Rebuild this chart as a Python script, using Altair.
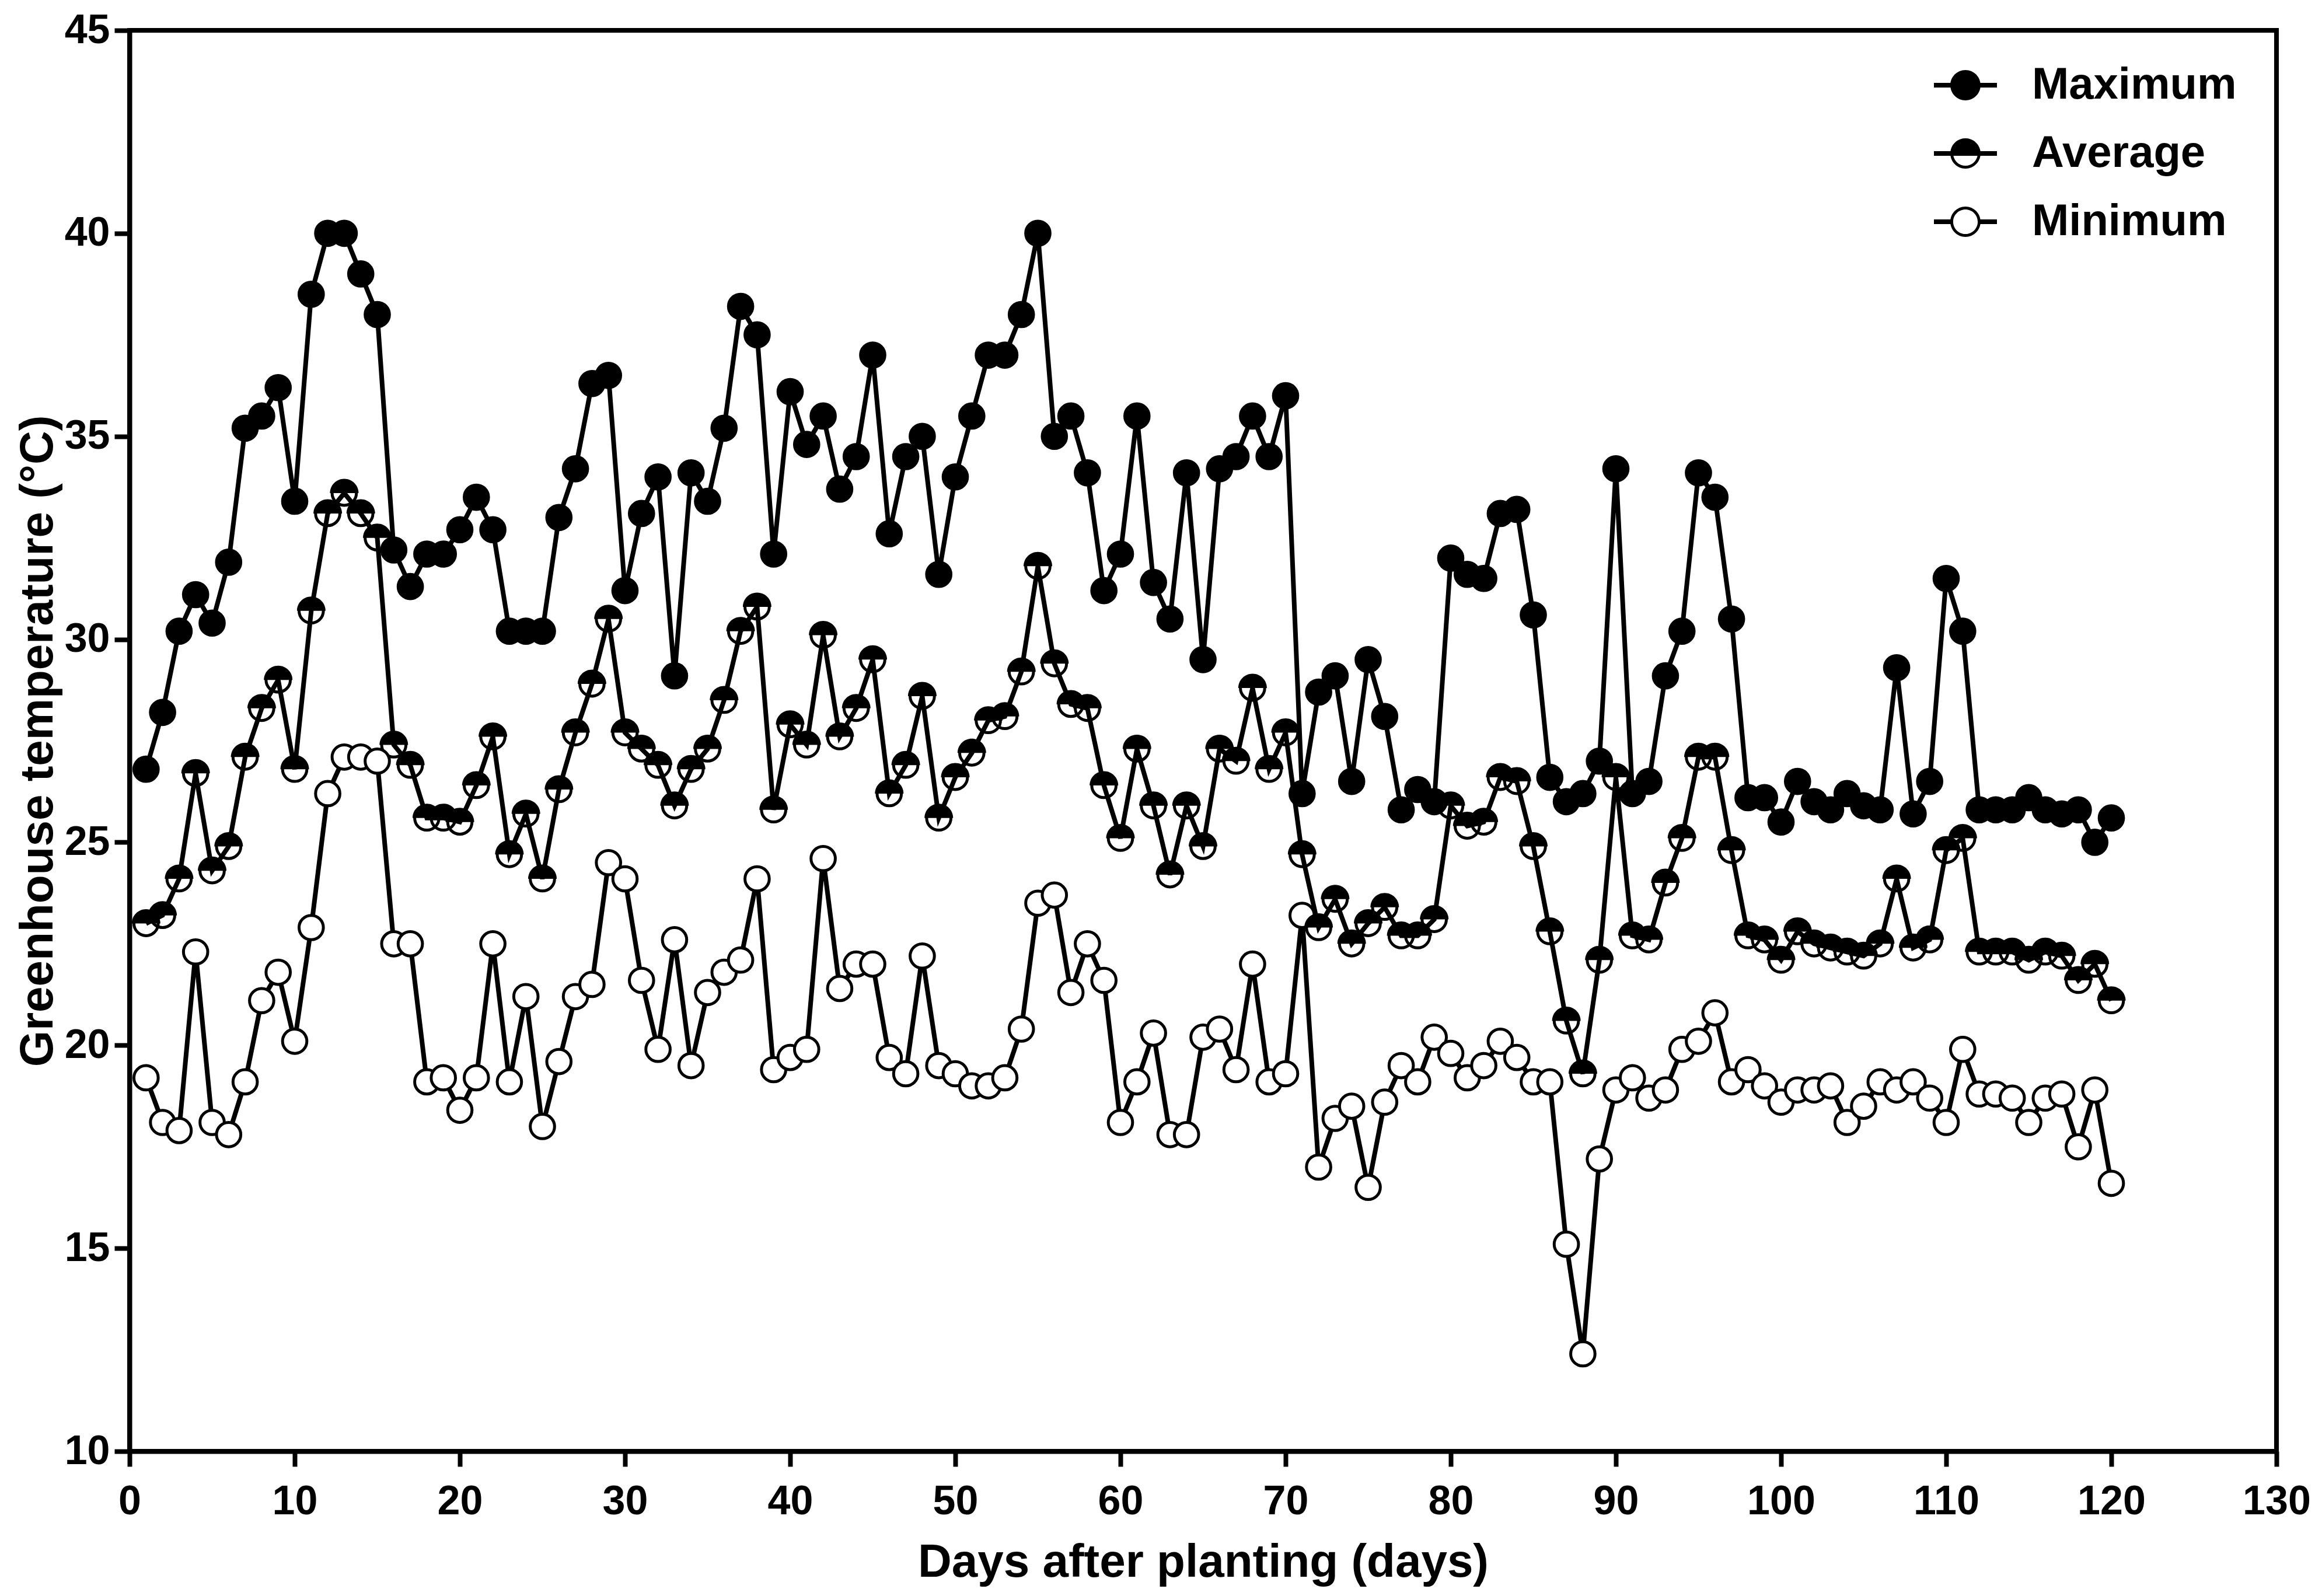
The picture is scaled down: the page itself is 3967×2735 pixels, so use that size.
import altair as alt
import pandas as pd

days = list(range(1, 121))

max_t = [26.8, 28.2, 30.2, 31.1, 30.4, 31.9, 35.2, 35.5, 36.2, 33.4,
         38.5, 40.0, 40.0, 39.0, 38.0, 32.2, 31.3, 32.1, 32.1, 32.7,
         33.5, 32.7, 30.2, 30.2, 30.2, 33.0, 34.2, 36.3, 36.5, 31.2,
         33.1, 34.0, 29.1, 34.1, 33.4, 35.2, 38.2, 37.5, 32.1, 36.1,
         34.8, 35.5, 33.7, 34.5, 37.0, 32.6, 34.5, 35.0, 31.6, 34.0,
         35.5, 37.0, 37.0, 38.0, 40.0, 35.0, 35.5, 34.1, 31.2, 32.1,
         35.5, 31.4, 30.5, 34.1, 29.5, 34.2, 34.5, 35.5, 34.5, 36.0,
         26.2, 28.7, 29.1, 26.5, 29.5, 28.1, 25.8, 26.3, 26.0, 32.0,
         31.6, 31.5, 33.1, 33.2, 30.6, 26.6, 26.0, 26.2, 27.0, 34.2,
         26.2, 26.5, 29.1, 30.2, 34.1, 33.5, 30.5, 26.1, 26.1, 25.5,
         26.5, 26.0, 25.8, 26.2, 25.9, 25.8, 29.3, 25.7, 26.5, 31.5,
         30.2, 25.8, 25.8, 25.8, 26.1, 25.8, 25.7, 25.8, 25.0, 25.6]

avg_t = [23.0, 23.2, 24.1, 26.7, 24.3, 24.9, 27.1, 28.3, 29.0, 26.8,
         30.7, 33.1, 33.6, 33.1, 32.5, 27.4, 26.9, 25.6, 25.6, 25.5,
         26.4, 27.6, 24.7, 25.7, 24.1, 26.3, 27.7, 28.9, 30.5, 27.7,
         27.3, 26.9, 25.9, 26.8, 27.3, 28.5, 30.2, 30.8, 25.8, 27.9,
         27.4, 30.1, 27.6, 28.3, 29.5, 26.2, 26.9, 28.6, 25.6, 26.6,
         27.2, 28.0, 28.1, 29.2, 31.8, 29.4, 28.4, 28.3, 26.4, 25.1,
         27.3, 25.9, 24.2, 25.9, 24.9, 27.3, 27.0, 28.8, 26.8, 27.7,
         24.7, 22.9, 23.6, 22.5, 23.0, 23.4, 22.7, 22.7, 23.1, 25.9,
         25.4, 25.5, 26.6, 26.5, 24.9, 22.8, 20.6, 19.3, 22.1, 26.6,
         22.7, 22.6, 24.0, 25.1, 27.1, 27.1, 24.8, 22.7, 22.6, 22.1,
         22.8, 22.5, 22.4, 22.3, 22.2, 22.5, 24.1, 22.4, 22.6, 24.8,
         25.1, 22.3, 22.3, 22.3, 22.1, 22.3, 22.2, 21.6, 22.0, 21.1]

min_t = [19.2, 18.1, 17.9, 22.3, 18.1, 17.8, 19.1, 21.1, 21.8, 20.1,
         22.9, 26.2, 27.1, 27.1, 27.0, 22.5, 22.5, 19.1, 19.2, 18.4,
         19.2, 22.5, 19.1, 21.2, 18.0, 19.6, 21.2, 21.5, 24.5, 24.1,
         21.6, 19.9, 22.6, 19.5, 21.3, 21.8, 22.1, 24.1, 19.4, 19.7,
         19.9, 24.6, 21.4, 22.0, 22.0, 19.7, 19.3, 22.2, 19.5, 19.3,
         19.0, 19.0, 19.2, 20.4, 23.5, 23.7, 21.3, 22.5, 21.6, 18.1,
         19.1, 20.3, 17.8, 17.8, 20.2, 20.4, 19.4, 22.0, 19.1, 19.3,
         23.2, 17.0, 18.2, 18.5, 16.5, 18.6, 19.5, 19.1, 20.2, 19.8,
         19.2, 19.5, 20.1, 19.7, 19.1, 19.1, 15.1, 12.4, 17.2, 18.9,
         19.2, 18.7, 18.9, 19.9, 20.1, 20.8, 19.1, 19.4, 19.0, 18.6,
         18.9, 18.9, 19.0, 18.1, 18.5, 19.1, 18.9, 19.1, 18.7, 18.1,
         19.9, 18.8, 18.8, 18.7, 18.1, 18.7, 18.8, 17.5, 18.9, 16.6]

series_names = ["Maximum", "Average", "Minimum"]
x_ticks = list(range(0, 131, 10))
y_ticks = list(range(10, 46, 5))

rows = []
for name, vals in zip(series_names, [max_t, avg_t, min_t]):
    for d, v in zip(days, vals):
        rows.append({"day": d, "temp": v, "series": name})
df = pd.DataFrame(rows)
legend_df = pd.DataFrame({"key": series_names})

FONT = "Liberation Sans"

x_enc = alt.X("day:Q", scale=alt.Scale(domain=[0, 130], nice=False, zero=False),
              axis=alt.Axis(values=x_ticks, title="Days after planting (days)",
                            labelPadding=26, titlePadding=30))
y_enc = alt.Y("temp:Q", scale=alt.Scale(domain=[10, 45], nice=False, zero=False),
              axis=alt.Axis(values=y_ticks, title="Greenhouse temperature (°C)",
                            labelPadding=8, titlePadding=4))

base = alt.Chart(df)

lines = base.mark_line(color="black", strokeWidth=8).encode(
    x=x_enc, y=y_enc, detail="series:N"
)

# fill scale uses its own domain order so it is not merged with the legend's scale
fill_domain = ["Average", "Maximum", "Minimum"]
fill_range = ["transparent", "black", "white"]
circles = base.mark_point(filled=True, shape="circle", size=1735, stroke="black",
                          strokeWidth=5, opacity=1).encode(
    x=x_enc, y=y_enc,
    fill=alt.Fill("series:N", scale=alt.Scale(domain=fill_domain, range=fill_range),
                  legend=None),
)

top_half = "M -1,0 A 1,1 0 0,1 1,0 Z"
halves = base.transform_filter(alt.datum.series == "Average").mark_point(
    filled=True, shape=top_half, size=2401, color="black", opacity=1, strokeWidth=0
).encode(x=x_enc, y=y_enc)

# legend symbols: line segment through a marker
outer = "M -0.48,0 A 0.48,0.48 0 1,1 0.48,0 A 0.48,0.48 0 1,1 -0.48,0 Z"
inner = "M -0.39,0 A 0.39,0.39 0 1,0 0.39,0 A 0.39,0.39 0 1,0 -0.39,0 Z"
full_bar = "M -1,-0.074 L 1,-0.074 L 1,0.074 L -1,0.074 Z"
left_bar = "M -1,-0.074 L -0.43,-0.074 L -0.43,0.074 L -1,0.074 Z"
right_bar = "M 0.43,-0.074 L 1,-0.074 L 1,0.074 L 0.43,0.074 Z"
low_hole = "M -0.383,0.074 A 0.39,0.39 0 0,0 0.383,0.074 Z"
sym_max = " ".join([outer, full_bar])
sym_avg = " ".join([outer, full_bar, low_hole])
sym_min = " ".join([outer, inner, left_bar, right_bar])

legend_layer = alt.Chart(legend_df).mark_point(
    filled=True, color="black", opacity=0, strokeWidth=0
).encode(
    shape=alt.Shape("key:N",
                    scale=alt.Scale(domain=series_names, range=[sym_max, sym_avg, sym_min]),
                    sort=series_names,
                    legend=alt.Legend(title=None, orient="none", legendX=3092, legendY=40,
                                      symbolSize=11664, labelFont=FONT, labelFontSize=76,
                                      labelFontWeight="bold", labelColor="black",
                                      labelLimit=600, labelOffset=60, rowPadding=25,
                                      padding=0, symbolOpacity=1, symbolStrokeWidth=0,
                                      symbolFillColor="black")),
)

chart = alt.layer(lines, circles, halves, legend_layer).properties(
    width=3679, height=2435,
    autosize=alt.AutoSizeParams(type="none"),
    padding={"left": 214, "top": 44, "right": 58, "bottom": 240},
    background="white",
).configure_view(
    stroke="black", strokeWidth=8
).configure_axis(
    grid=False, domainColor="black", domainWidth=8, tickColor="black", tickWidth=8,
    tickSize=26, labelFont=FONT, labelFontSize=70, labelFontWeight="bold",
    labelColor="black", titleFont=FONT, titleFontSize=80, titleFontWeight="bold",
    titleColor="black", labelFlush=False, labelOverlap=False,
)

chart.save("out.html", embed_options={"renderer": "svg", "actions": False})
